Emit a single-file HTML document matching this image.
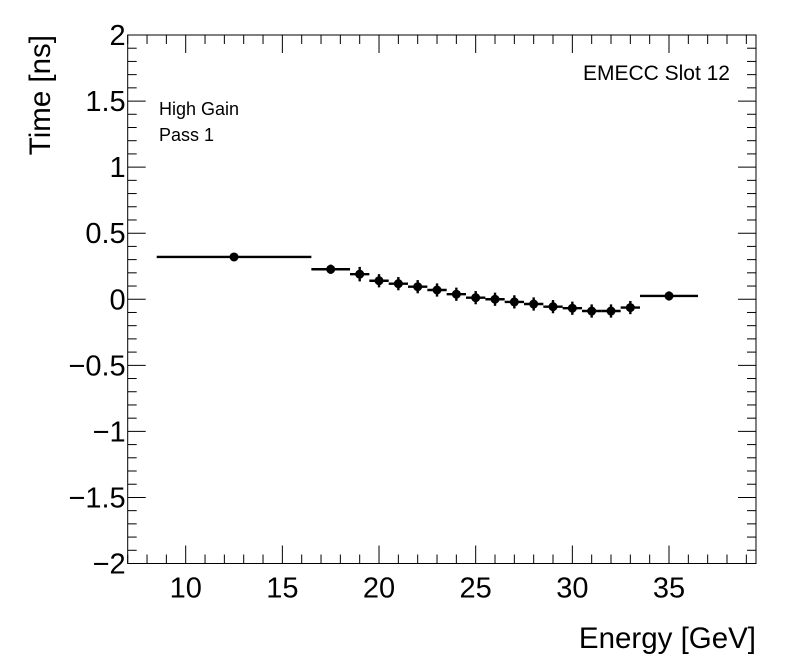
<!DOCTYPE html>
<html><head><meta charset="utf-8"><style>
body{margin:0;background:#fff;}
svg{display:block;font-family:"Liberation Sans",sans-serif;}
</style></head><body>
<svg id="c" width="796" height="672">
<rect x="0" y="0" width="796" height="672" fill="#fff"/>
</svg>
<script>
const binLow=[8.5,16.5,18.5,19.5,20.5,21.5,22.5,23.5,24.5,25.5,26.5,27.5,28.5,29.5,30.5,31.5,32.5,33.5];
const binHigh=[16.5,18.5,19.5,20.5,21.5,22.5,23.5,24.5,25.5,26.5,27.5,28.5,29.5,30.5,31.5,32.5,33.5,36.5];
const timeVals=[0.32,0.227,0.19,0.14,0.118,0.095,0.07,0.038,0.012,0.0,-0.02,-0.036,-0.056,-0.068,-0.089,-0.089,-0.063,0.025];
const timeErrs=[0.025,0.035,0.055,0.05,0.05,0.05,0.05,0.05,0.05,0.05,0.05,0.05,0.05,0.05,0.05,0.05,0.05,0.035];
const xTicks=[10,15,20,25,30,35];
const yTicks=[-2,-1.5,-1,-0.5,0,0.5,1,1.5,2];
const yTickLabels=["\u22122","\u22121.5","\u22121","\u22120.5","0","0.5","1","1.5","2"];
const X0=7,X1=39.5,Y0=-2,Y1=2;
const L=127.7,R=756,T=35,B=563.5;
const sx=v=>L+(v-X0)/(X1-X0)*(R-L);
const sy=v=>B-(v-Y0)/(Y1-Y0)*(B-T);
const svg=document.getElementById('c');
const NS='http://www.w3.org/2000/svg';
function mk(tag,attrs,parent){const e=document.createElementNS(NS,tag);for(const k in attrs)e.setAttribute(k,attrs[k]);(parent||svg).appendChild(e);return e;}
const frame=mk('rect',{x:L,y:T,width:R-L,height:B-T,fill:'none',stroke:'#000','stroke-width':1});


const ticks=mk('g',{stroke:'#000','stroke-width':1});


for(let v=7;v<=39;v++){const x=sx(v);const len=(v%5===0)?18:9;
mk('line',{x1:x,x2:x,y1:B,y2:B-len},ticks);mk('line',{x1:x,x2:x,y1:T,y2:T+len},ticks);}
for(let i=-20;i<=20;i++){const y=sy(i/10);const len=(i%5===0)?18:9;
mk('line',{x1:L,x2:L+len,y1:y,y2:y},ticks);mk('line',{x1:R,x2:R-len,y1:y,y2:y},ticks);}
xTicks.forEach(v=>{const t=mk('text',{x:sx(v),y:B+34,'font-size':29,'text-anchor':'middle'});t.textContent=v;

});
yTicks.forEach((v,i)=>{const t=mk('text',{x:L-2,y:sy(v)+10,'font-size':29,'text-anchor':'end'});t.textContent=yTickLabels[i];

});
const series=mk('g',{stroke:'#000','stroke-width':2.4,fill:'#000'});


timeVals.forEach((v,i)=>{const c=(binLow[i]+binHigh[i])/2;const y=sy(v);
const g=mk('g',{},series);


mk('line',{x1:sx(binLow[i]),x2:sx(binHigh[i]),y1:y,y2:y},g);
mk('line',{x1:sx(c),x2:sx(c),y1:sy(v+timeErrs[i]),y2:sy(v-timeErrs[i])},g);
mk('circle',{cx:sx(c),cy:y,r:4.5,stroke:'none'},g);});
function txt(s,a,name){const t=mk('text',a);t.textContent=s;

return t;}
txt('Energy [GeV]',{x:756,y:648,'font-size':29.5,'text-anchor':'end'},'x-axis-title');
txt('Time [ns]',{x:0,y:0,'font-size':29.5,'text-anchor':'end',transform:'translate(50,35) rotate(-90)'},'y-axis-title');
txt('EMECC Slot 12',{x:730,y:80,'font-size':21,'text-anchor':'end'},'slot-label');
txt('High Gain',{x:159,y:115,'font-size':18},'gain-label');
txt('Pass 1',{x:159,y:141,'font-size':18},'pass-label');
</script>
</body></html>
